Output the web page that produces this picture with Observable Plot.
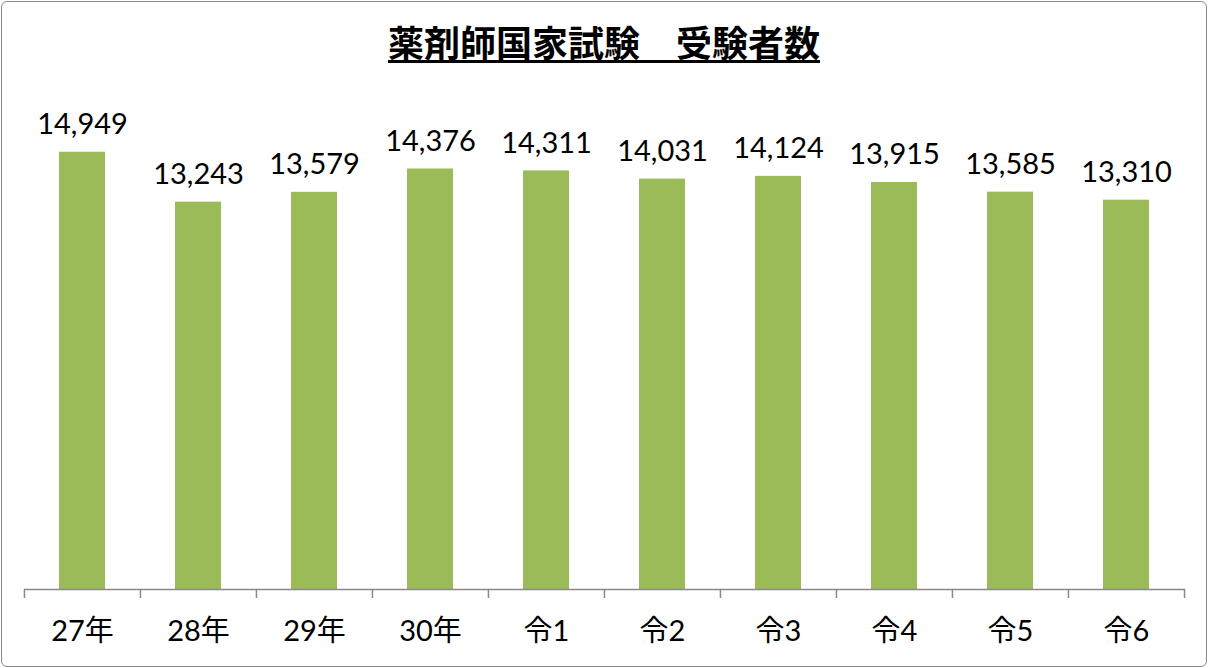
<!DOCTYPE html>
<html>
<head>
<meta charset="utf-8">
<script src="https://cdn.jsdelivr.net/npm/d3@7"></script>
<script src="https://cdn.jsdelivr.net/npm/@observablehq/plot@0.6"></script>
<style>
  html, body { margin: 0; padding: 0; background: #fff; }
  #wrap { position: relative; width: 1208px; height: 668px; overflow: hidden; }
  #title { height: 80px; box-sizing: border-box; padding-top: 19px; text-align: center;
    font-family: "Noto Sans CJK JP", sans-serif; font-weight: bold; font-size: 36px; line-height: 44px;
    color: #000; }
  #title span { text-decoration: underline; text-decoration-thickness: 3px; text-underline-offset: 3px; }
  #border { position: absolute; left: 1px; top: 1px; right: 1px; bottom: 1px; border: 1.5px solid #8a8a8a; border-radius: 6px; pointer-events: none; }
  svg { display: block; }
</style>
</head>
<body>
<div id="wrap">
  <div id="title"><span>薬剤師国家試験　受験者数</span></div>
  <div id="chart"></div>
  <div id="border"></div>
</div>
<script>
const categories = ["27年", "28年", "29年", "30年", "令1", "令2", "令3", "令4", "令5", "令6"];
const examinees = [14949, 13243, 13579, 14376, 14311, 14031, 14124, 13915, 13585, 13310];

const data = categories.map((c, i) => ({category: c, value: examinees[i]}));

const W = 1208, H = 588, ML = 24, MR = 23, MT = 41, MB = 79;
const step = (W - ML - MR) / categories.length;
const font = "Lato, 'Noto Sans CJK JP', sans-serif";

const chart = Plot.plot({
  width: W,
  height: H,
  marginLeft: ML,
  marginRight: MR,
  marginTop: MT,
  marginBottom: MB,
  style: {fontFamily: font, background: "#fff"},
  x: {domain: categories, paddingInner: 0.6, paddingOuter: 0.3, label: null},
  y: {domain: [0, 16000], axis: null},
  marks: [
    Plot.barY(data, {x: "category", y: "value", fill: "#9BBB59"}),
    Plot.ruleY([0], {stroke: "#898989", strokeWidth: 1.5}),
    Plot.axisX({ticks: categories, tickSize: 9, dx: -step / 2, text: null, stroke: "#898989", strokeWidth: 1.5}),
    Plot.axisX({ticks: [categories[categories.length - 1]], tickSize: 9, dx: step / 2, text: null, stroke: "#898989", strokeWidth: 1.5}),
    Plot.axisX({ticks: categories, tickSize: 0, tickPadding: 31, fontSize: 29, fill: "#000", label: null, fontFamily: font}),
    Plot.text(data, {x: "category", y: "value", text: d => d3.format(",")(d.value), lineAnchor: "bottom", dy: -18, fontSize: 29, fill: "#000", fontFamily: font})
  ]
});
document.getElementById("chart").appendChild(chart);
</script>
</body>
</html>
